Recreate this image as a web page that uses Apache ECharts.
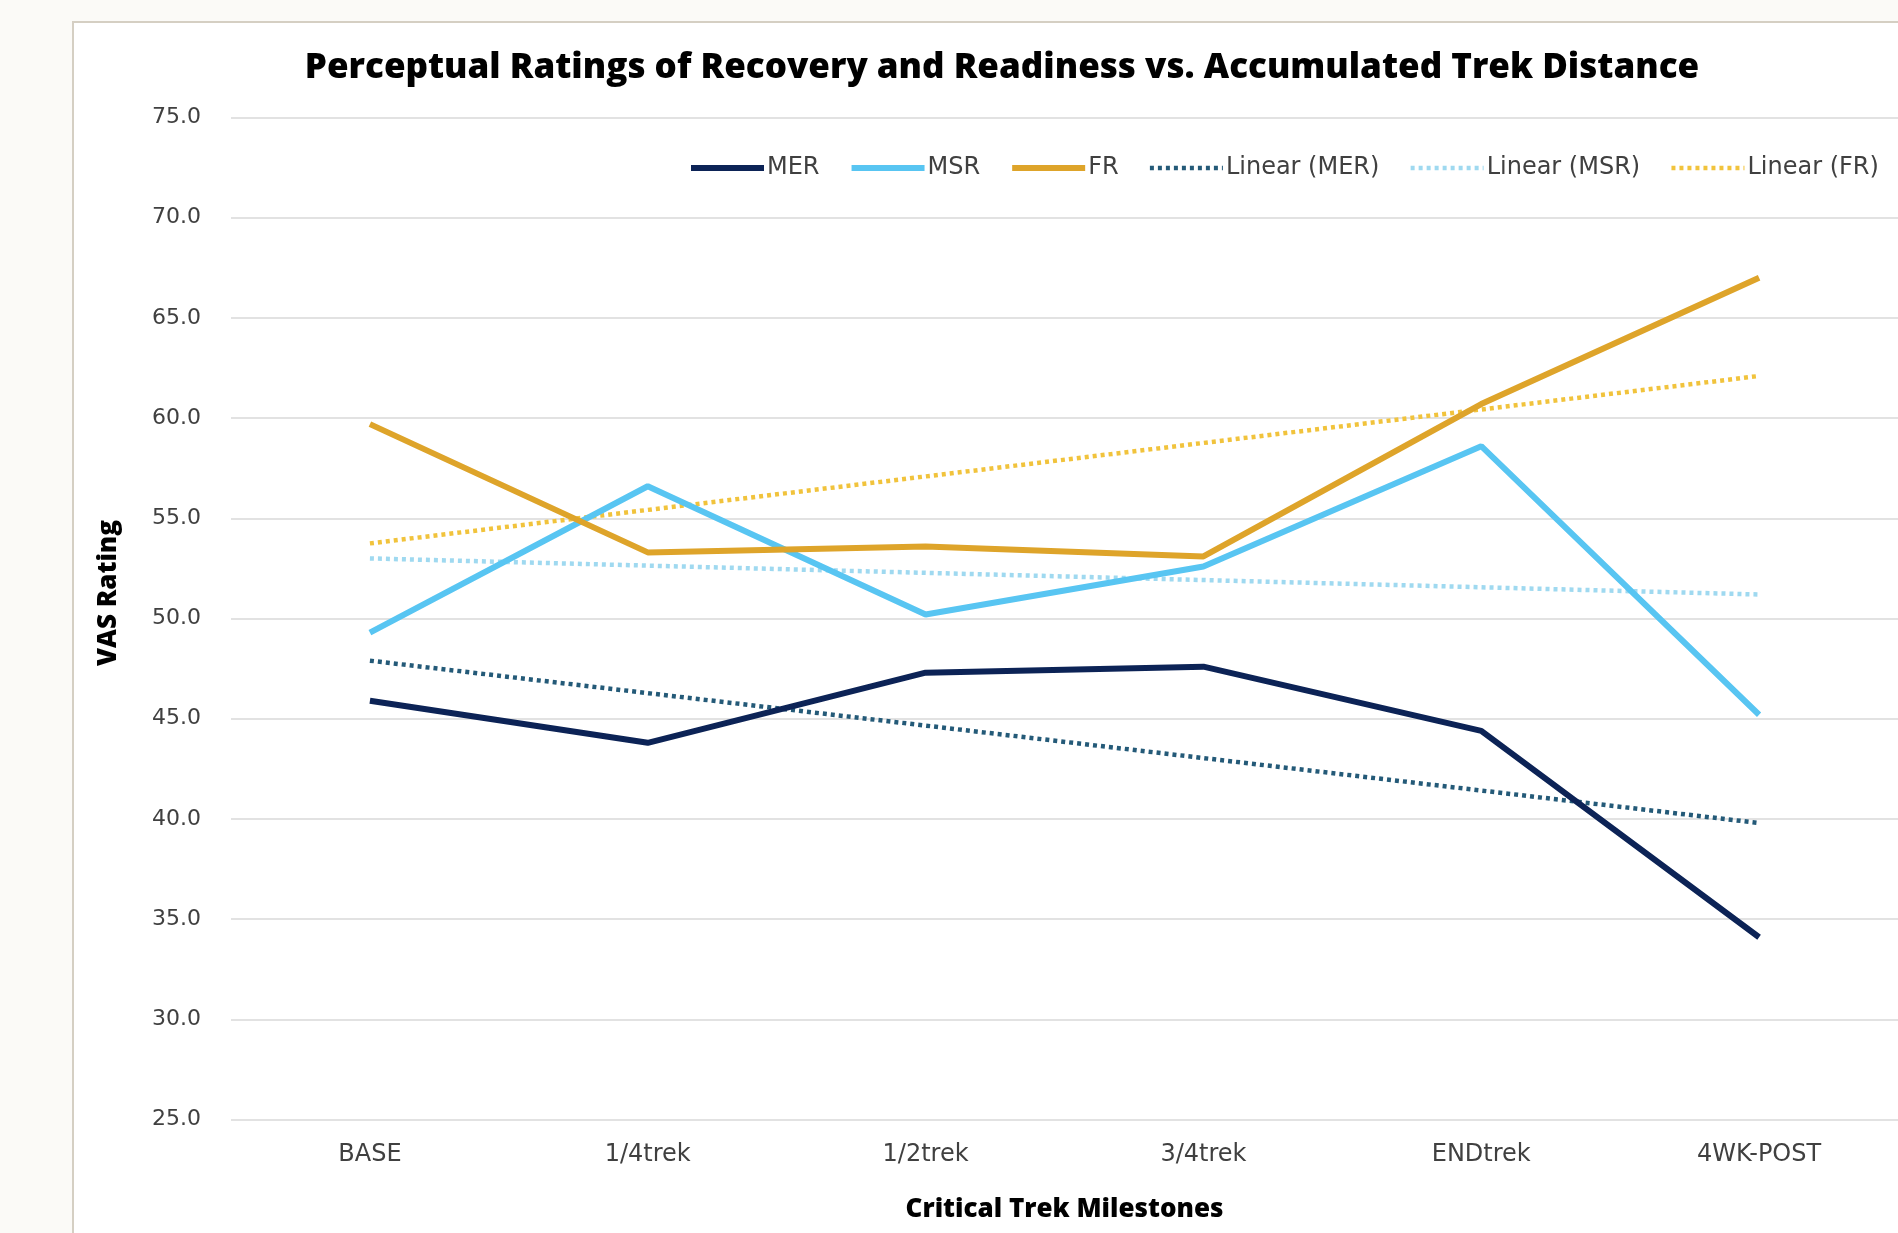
<!DOCTYPE html>
<html><head><meta charset="utf-8">
<script src="https://cdn.jsdelivr.net/npm/echarts@6/dist/echarts.min.js"></script>
<style>html,body{margin:0;padding:0;background:#fbfaf7;}#c{width:1898px;height:1233px;}</style>
</head><body><div id="c"></div>
<script>
const categories = ['BASE', '1/4trek', '1/2trek', '3/4trek', 'ENDtrek', '4WK-POST'];
const merValues = [45.9, 43.8, 47.3, 47.6, 44.4, 34.1];
const msrValues = [49.3, 56.6, 50.2, 52.6, 58.6, 45.2];
const frValues  = [59.7, 53.3, 53.6, 53.1, 60.7, 67.0];
// trend lines: endpoints (straight lines)
const merTrend = [47.9, null, null, null, null, 39.8];
const msrTrend = [53.0, null, null, null, null, 51.2];
const frTrend  = [53.75, null, null, null, null, 62.1];
const yTicks = { min: 25, max: 75, interval: 5 };

const chart = echarts.init(document.getElementById('c'), null, { renderer: 'canvas' });
const C = { mer: '#0c2356', msr: '#58c5f2', fr: '#dea42a', mert: '#245a78', msrt: '#9fd9f0', frt: '#f1c33c' };
function solid(name, data, color) {
  return { name, type: 'line', data, symbol: 'none', lineStyle: { color, width: 6 }, itemStyle: { color }, z: 3 };
}
function dotted(name, data, color) {
  return { name, type: 'line', data, symbol: 'none', connectNulls: true, lineStyle: { color, width: 4.5, type: [4, 4] }, itemStyle: { color }, z: 2 };
}
chart.setOption({
  backgroundColor: '#fbfaf7',
  animation: false,
  graphic: [
    { type: 'rect', shape: { x: 73, y: 22, width: 1900, height: 1300 }, style: { fill: '#ffffff', stroke: '#d5cfc3', lineWidth: 2 }, z: -10 },
    { type: 'text', x: 109, y: 593, rotation: Math.PI / 2, style: { text: 'VAS Rating', font: '800 26px "Open Sans"', fill: '#000', textAlign: 'center', textVerticalAlign: 'middle' } }
  ],
  title: {
    text: 'Perceptual Ratings of Recovery and Readiness vs. Accumulated Trek Distance',
    left: 997, top: 46, textAlign: 'center',
    textStyle: { fontFamily: 'Open Sans', fontWeight: 800, fontSize: 35, color: '#000' }
  },
  legend: {
    top: 151, left: 683,
    itemWidth: 73, itemHeight: 12, itemGap: 29,
    itemStyle: { opacity: 0 },
    lineStyle: { width: 'inherit' },
    textStyle: { fontFamily: 'DejaVu Sans', fontSize: 24, color: '#404040', padding: [0, 0, 0, -2] },
    data: ['MER', 'MSR', 'FR', 'Linear (MER)', 'Linear (MSR)', 'Linear (FR)']
  },
  grid: { left: 231, right: -6, top: 117.4, bottom: 1233 - 1119.7 },
  xAxis: {
    type: 'category', data: categories, boundaryGap: true,
    axisLine: { show: false }, axisTick: { show: false },
    axisLabel: { fontFamily: 'DejaVu Sans', fontSize: 24, color: '#404040', margin: 23 },
    name: 'Critical Trek Milestones', nameLocation: 'middle', nameGap: 77,
    nameTextStyle: { fontFamily: 'Open Sans', fontWeight: 800, fontSize: 26, color: '#000' }
  },
  yAxis: {
    type: 'value', min: yTicks.min, max: yTicks.max, interval: yTicks.interval,
    axisLine: { show: false }, axisTick: { show: false },
    axisLabel: { fontFamily: 'DejaVu Sans', fontSize: 22, color: '#404040', margin: 30, formatter: v => v.toFixed(1) },
    splitLine: { lineStyle: { color: '#d9d9d9', width: 1.5 } }
  },
  series: [
    solid('MER', merValues, C.mer),
    solid('MSR', msrValues, C.msr),
    solid('FR', frValues, C.fr),
    dotted('Linear (MER)', merTrend, C.mert),
    dotted('Linear (MSR)', msrTrend, C.msrt),
    dotted('Linear (FR)', frTrend, C.frt)
  ]
});
</script></body></html>
